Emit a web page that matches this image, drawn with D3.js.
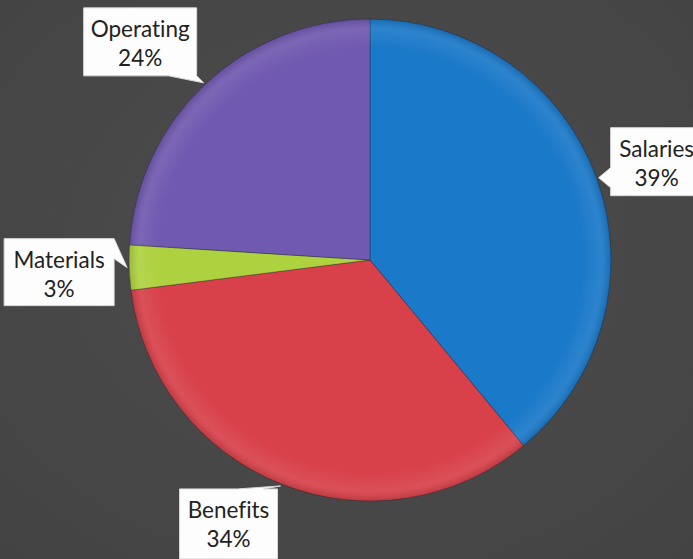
<!DOCTYPE html>
<html><head><meta charset="utf-8">
<script src="https://cdn.jsdelivr.net/npm/d3@7"></script>
<style>
html,body{margin:0;padding:0;background:#464646;}
svg{display:block;}
text{font-variant-ligatures:none;font-feature-settings:"liga" 0;}
</style></head>
<body>
<svg id="c" width="693" height="559"></svg>
<script>
const categories = ["Salaries", "Benefits", "Materials", "Operating"];
const values = [39, 34, 3, 24];
const colors = ["#1b79c9", "#d8414a", "#aed13f", "#7059b0"];
// label box layout: offset of box from pointer tip, box size, side of pointer base
const labelLayout = [
  {dx: 12, dy: -50, w: 92, h: 68, side: "left"},
  {dx: -101, dy: 3, w: 98, h: 70, side: "top"},
  {dx: -123, dy: -29, w: 110, h: 67, side: "right"},
  {dx: -120, dy: -75, w: 113, h: 68, side: "bottom"}
];

const W = 693, H = 559;
const cx = 370, cy = 260, R = 241;
const svg = d3.select("#c");

// background
const defs = svg.append("defs");
const bg = defs.append("radialGradient").attr("id","bg").attr("cx","50%").attr("cy","45%").attr("r","75%");
bg.append("stop").attr("offset","0%").attr("stop-color","#4d4d4d");
bg.append("stop").attr("offset","100%").attr("stop-color","#434343");
svg.append("rect").attr("width",W).attr("height",H).attr("fill","url(#bg)");

const shade = defs.append("radialGradient").attr("id","shade")
  .attr("gradientUnits","userSpaceOnUse").attr("cx",0).attr("cy",0).attr("r",R);
shade.append("stop").attr("offset","0%").attr("stop-color","#fff").attr("stop-opacity",0);
shade.append("stop").attr("offset","88%").attr("stop-color","#fff").attr("stop-opacity",0.0);
shade.append("stop").attr("offset","96%").attr("stop-color","#fff").attr("stop-opacity",0.08);
shade.append("stop").attr("offset","100%").attr("stop-color","#000").attr("stop-opacity",0.12);

const data = categories.map((c,i)=>({name:c, value:values[i], color:colors[i], layout:labelLayout[i]}));
const pie = d3.pie().value(d=>d.value).sort(null).startAngle(0).endAngle(2*Math.PI);
const arc = d3.arc().innerRadius(0).outerRadius(R);
const arcs = pie(data);

const g = svg.append("g").attr("transform",`translate(${cx},${cy})`);
g.selectAll("path.slice").data(arcs).join("path")
  .attr("class","slice")
  .attr("d",arc)
  .attr("fill",d=>d.data.color)
  .attr("stroke","rgba(30,30,50,0.35)")
  .attr("stroke-width",1);
g.append("circle").attr("r",R).attr("fill","url(#shade)").attr("pointer-events","none");

// labels
const tipR = R + 2;
const lab = svg.append("g");
arcs.forEach(a=>{
  const mid = (a.startAngle + a.endAngle)/2;
  const tx = cx + tipR*Math.sin(mid), ty = cy - tipR*Math.cos(mid);
  const L = a.data.layout;
  const x0 = tx + L.dx, y0 = ty + L.dy, x1 = x0 + L.w, y1 = y0 + L.h;
  let pts;
  if (L.side === "left") {
    const b = ty; pts = [[x0,y0],[x1,y0],[x1,y1],[x0,y1],[x0,b+10],[tx,ty],[x0,b-10]];
  } else if (L.side === "top") {
    pts = [[x0,y0],[x1-40,y0],[tx,ty],[x1-14,y0],[x1,y0],[x1,y1],[x0,y1]];
  } else if (L.side === "right") {
    pts = [[x0,y0],[x1,y0],[tx,ty],[x1,y0+20],[x1,y1],[x0,y1]];
  } else {
    pts = [[x0,y0],[x1,y0],[x1,y1],[tx,ty],[x1-28,y1],[x0,y1]];
  }
  lab.append("path")
    .attr("d","M"+pts.map(p=>p.join(",")).join("L")+"Z")
    .attr("fill","#fdfdfd")
    .attr("stroke","#d8d8d8").attr("stroke-width",1);
  const mx = (x0+x1)/2;
  const t = lab.append("text").attr("text-anchor","middle")
    .attr("font-family","Lato, 'Open Sans', sans-serif").attr("font-size",22.5)
    .attr("fill","#222");
  t.append("tspan").attr("x",mx).attr("y",y0+29).text(a.data.name);
  t.append("tspan").attr("x",mx).attr("y",y0+58).text(a.data.value+"%");
});
</script>
</body></html>
